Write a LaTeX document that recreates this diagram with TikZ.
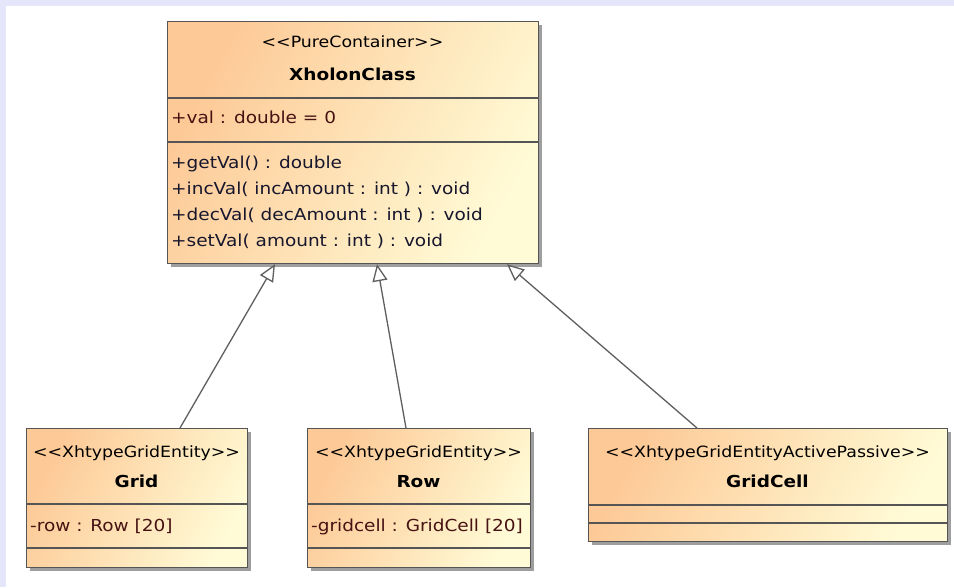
\documentclass[tikz,border=0pt]{standalone}
\usepackage{fontspec}
\setmainfont[FakeStretch=1.12]{DejaVu Sans}
\usetikzlibrary{arrows.meta,shadows}

\definecolor{frameband}{RGB}{230,230,250}
\definecolor{classwarm}{RGB}{253,201,150}
\definecolor{classpale}{RGB}{255,251,214}
\definecolor{classedge}{RGB}{85,85,85}
\definecolor{linkgray}{RGB}{95,95,95}
\definecolor{attrtext}{RGB}{70,18,18}
\definecolor{optext}{RGB}{22,22,45}

% guillemet-free stereotype brackets
\newcommand{\stopen}{<{}<}
\newcommand{\stclose}{>{}>}

\begin{document}
\begin{tikzpicture}[x=1pt,y=-1pt,
  classbox/.style={rectangle, draw=classedge, line width=1.2pt, inner sep=0pt,
    anchor=north west, top color=classwarm, bottom color=classpale, shading angle=62,
    drop shadow={fill=black!38, opacity=1, shadow xshift=3pt, shadow yshift=-3pt}},
  stereo/.style={inner sep=0pt, anchor=base, font=\fontsize{15.5}{15.5}\selectfont, text=black},
  cname/.style={inner sep=0pt, anchor=base, font=\fontsize{16.5}{16.5}\selectfont\bfseries, text=black},
  attr/.style={inner sep=0pt, anchor=base west, font=\fontsize{16.5}{16.5}\selectfont, text=attrtext},
  oper/.style={inner sep=0pt, anchor=base west, font=\fontsize{16.5}{16.5}\selectfont, text=optext},
  compline/.style={draw=classedge, line width=1.2pt},
  genline/.style={draw=linkgray, line width=1.3pt, -{Triangle[open, length=17pt, width=15pt, line width=1.3pt]}}
]
\useasboundingbox (0,0) rectangle (954,587);
\fill[white] (0,0) rectangle (954,587);
\fill[frameband] (0,0) rectangle (954,6);
\fill[frameband] (0,0) rectangle (6,587);

% class boxes
\node[classbox, minimum width=371pt, minimum height=242pt] (xc) at (167,21) {};
\node[classbox, minimum width=221pt, minimum height=139pt] (grid) at (26,428) {};
\node[classbox, minimum width=223pt, minimum height=139pt] (row) at (307,428) {};
\node[classbox, minimum width=359pt, minimum height=113pt] (cell) at (588,428) {};

% compartment separators
\draw[compline] ([yshift=-77pt]xc.north west) -- ([yshift=-77pt]xc.north east);
\draw[compline] ([yshift=-121pt]xc.north west) -- ([yshift=-121pt]xc.north east);
\draw[compline] ([yshift=-76pt]grid.north west) -- ([yshift=-76pt]grid.north east);
\draw[compline] ([yshift=-120pt]grid.north west) -- ([yshift=-120pt]grid.north east);
\draw[compline] ([yshift=-76pt]row.north west) -- ([yshift=-76pt]row.north east);
\draw[compline] ([yshift=-120pt]row.north west) -- ([yshift=-120pt]row.north east);
\draw[compline] ([yshift=-77pt]cell.north west) -- ([yshift=-77pt]cell.north east);
\draw[compline] ([yshift=-95pt]cell.north west) -- ([yshift=-95pt]cell.north east);

% XholonClass
\node[stereo] (xcS) at (352.5,47) {\stopen PureContainer\stclose};
\node[cname] (xcN) at (352.5,80) {XholonClass};
\node[attr] (xcA) at (171,123) {+val : double = 0};
\node[oper] (xcO1) at (171,168) {+getVal() : double};
\node[oper] (xcO2) at (171,194) {+incVal( incAmount : int ) : void};
\node[oper] (xcO3) at (171,220) {+decVal( decAmount : int ) : void};
\node[oper] (xcO4) at (171,246) {+setVal( amount : int ) : void};

% Grid
\node[stereo] (gridS) at (136.5,457) {\stopen XhtypeGridEntity\stclose};
\node[cname] (gridN) at (136.5,487) {Grid};
\node[attr] (gridA) at (30,531.5) {-row : Row [20]};

% Row
\node[stereo] (rowS) at (418.5,457) {\stopen XhtypeGridEntity\stclose};
\node[cname] (rowN) at (418.5,487) {Row};
\node[attr] (rowA) at (311,531.5) {-gridcell : GridCell [20]};

% GridCell
\node[stereo] (cellS) at (767.5,457) {\stopen XhtypeGridEntityActivePassive\stclose};
\node[cname] (cellN) at (767.5,487) {GridCell};

% generalizations
\draw[genline] ([xshift=154pt]grid.north west) -- ([xshift=108pt]xc.south west);
\draw[genline] ([xshift=99pt]row.north west) -- ([xshift=210pt]xc.south west);
\draw[genline] ([xshift=109pt]cell.north west) -- ([xshift=340pt]xc.south west);
\end{tikzpicture}
\end{document}
